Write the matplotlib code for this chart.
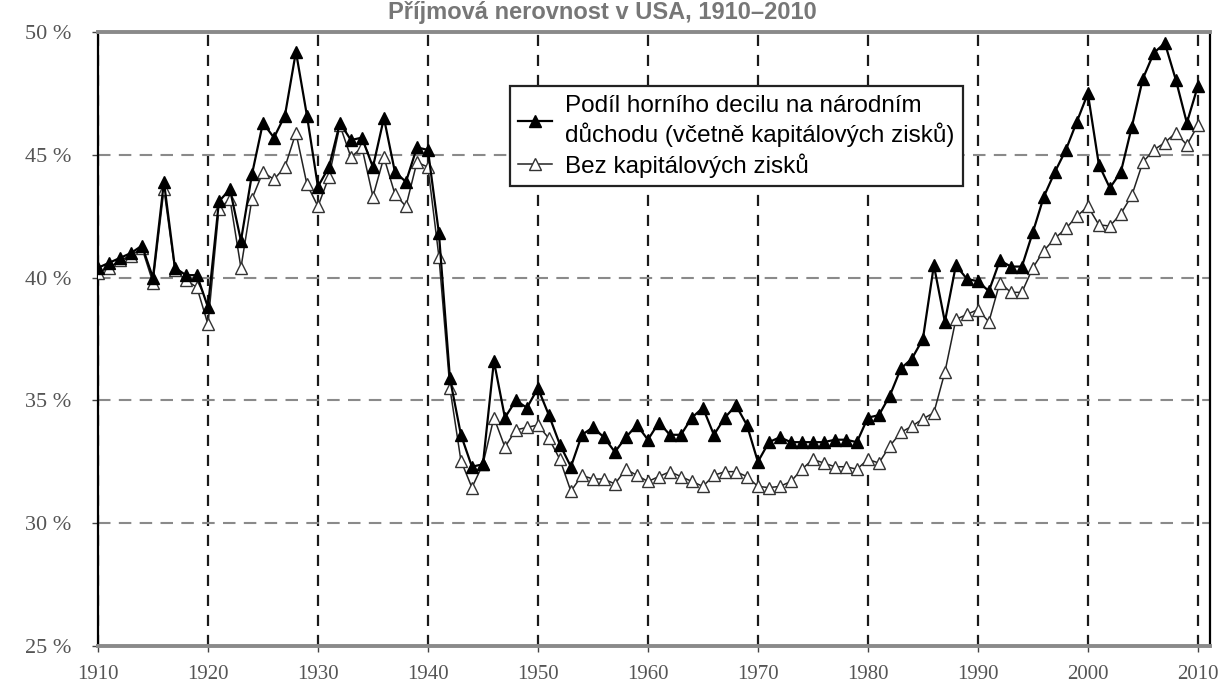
import matplotlib
matplotlib.use("Agg")
import matplotlib.pyplot as plt
import numpy as np

# Podíl horního decilu (USA), v %
years = np.arange(1910, 2011)

with_gains = [
    40.4, 40.6, 40.8, 41.0, 41.3, 40.0, 43.9, 40.4, 40.1, 40.1,   # 1910-1919
    38.8, 43.1, 43.6, 41.5, 44.2, 46.3, 45.7, 46.6, 49.2, 46.6,   # 1920-1929
    43.7, 44.5, 46.3, 45.6, 45.7, 44.5, 46.5, 44.3, 43.9, 45.3,   # 1930-1939
    45.2, 41.8, 35.9, 33.6, 32.3, 32.4, 36.6, 34.3, 35.0, 34.7,   # 1940-1949
    35.5, 34.4, 33.2, 32.3, 33.6, 33.9, 33.5, 32.9, 33.5, 34.0,   # 1950-1959
    33.4, 34.1, 33.6, 33.6, 34.3, 34.7, 33.6, 34.3, 34.8, 34.0,   # 1960-1969
    32.5, 33.3, 33.5, 33.3, 33.3, 33.3, 33.3, 33.4, 33.4, 33.3,   # 1970-1979
    34.3, 34.4, 35.2, 36.3, 36.7, 37.5, 40.5, 38.2, 40.5, 39.95,  # 1980-1989
    39.85, 39.45, 40.7, 40.45, 40.45, 41.85, 43.3, 44.3, 45.2, 46.35,  # 1990-1999
    47.5, 44.6, 43.65, 44.3, 46.15, 48.1, 49.15, 49.55, 48.05, 46.3,   # 2000-2009
    47.8,                                                          # 2010
]

without_gains = [
    40.2, 40.4, 40.7, 40.9, 41.2, 39.8, 43.6, 40.3, 39.9, 39.6,
    38.1, 42.8, 43.2, 40.4, 43.2, 44.3, 44.0, 44.5, 45.9, 43.8,
    42.9, 44.1, 46.2, 44.9, 45.3, 43.3, 44.9, 43.4, 42.9, 44.7,
    44.5, 40.85, 35.5, 32.55, 31.45, 32.4, 34.3, 33.1, 33.8, 33.9,
    34.0, 33.45, 32.6, 31.3, 31.95, 31.8, 31.8, 31.6, 32.2, 31.95,
    31.7, 31.9, 32.1, 31.9, 31.7, 31.5, 31.95, 32.1, 32.1, 31.9,
    31.5, 31.45, 31.5, 31.7, 32.2, 32.6, 32.45, 32.3, 32.3, 32.2,
    32.6, 32.45, 33.15, 33.7, 33.95, 34.25, 34.5, 36.15, 38.3, 38.5,
    38.7, 38.2, 39.8, 39.4, 39.4, 40.4, 41.1, 41.6, 42.0, 42.5,
    42.9, 42.15, 42.1, 42.6, 43.35, 44.7, 45.2, 45.5, 45.9, 45.4,
    46.2,
]

x_ticks = list(range(1910, 2011, 10))
y_ticks = [25, 30, 35, 40, 45, 50]
y_labels = [f"{v} %" for v in y_ticks]

label_with = "Podíl horního decilu na národním\ndůchodu (včetně kapitálových zisků)"
label_without = "Bez kapitálových zisků"
title = "Příjmová nerovnost v USA, 1910–2010"

fig = plt.figure(figsize=(12.29, 6.96), dpi=100)
ax = fig.add_axes([0.0797, 0.0718, 0.9048, 0.8822])

ax.plot(years, with_gains, color="black", lw=1.6, marker="^", markersize=8,
        markerfacecolor="black", markeredgecolor="black", label=label_with, zorder=4)
ax.plot(years, without_gains, color="#222222", lw=1.1, marker="^", markersize=8,
        markerfacecolor="white", markeredgecolor="#333333", markeredgewidth=1.0,
        label=label_without, zorder=3)

ax.set_xlim(1910, 2011.1)
ax.set_ylim(25, 50)
ax.set_xticks(x_ticks)
ax.set_yticks(y_ticks)
ax.set_yticklabels(y_labels)

# grid: vertical black dashes, horizontal grey dashes
ax.set_axisbelow(True)
ax.xaxis.grid(True, color="#1a1a1a", lw=1.6, linestyle=(0, (5, 4)))
ax.yaxis.grid(True, color="#8a8a8a", lw=1.5, linestyle=(0, (6, 4)))

for side in ["top", "bottom"]:
    ax.spines[side].set_color("#8a8a8a")
    ax.spines[side].set_linewidth(2.8)
for side in ["left", "right"]:
    ax.spines[side].set_color("black")
    ax.spines[side].set_linewidth(1.6)

ax.tick_params(axis="both", direction="out", length=4, width=1, color="#444444",
               labelcolor="#555555")
ax.tick_params(axis="x", pad=10, labelsize=15)
ax.tick_params(axis="y", pad=15, labelsize=16)
for lbl in ax.get_xticklabels() + ax.get_yticklabels():
    lbl.set_family("Liberation Serif")

leg = ax.legend(loc="upper left", bbox_to_anchor=(0.3705, 0.912), frameon=True,
                fancybox=False, framealpha=1, edgecolor="#222222",
                prop={"family": "Liberation Sans", "size": 17.5},
                handlelength=1.4, handletextpad=0.5, borderpad=0.35,
                labelspacing=0.25, borderaxespad=0)
leg.get_frame().set_linewidth(1.6)
for t in leg.get_texts():
    t.set_linespacing(1.3)

fig.text(0.49, 0.999, title, ha="center", va="top", fontsize=17,
         fontweight="bold", color="#777777", family="Liberation Sans")

fig.savefig("out.png", dpi=100)
